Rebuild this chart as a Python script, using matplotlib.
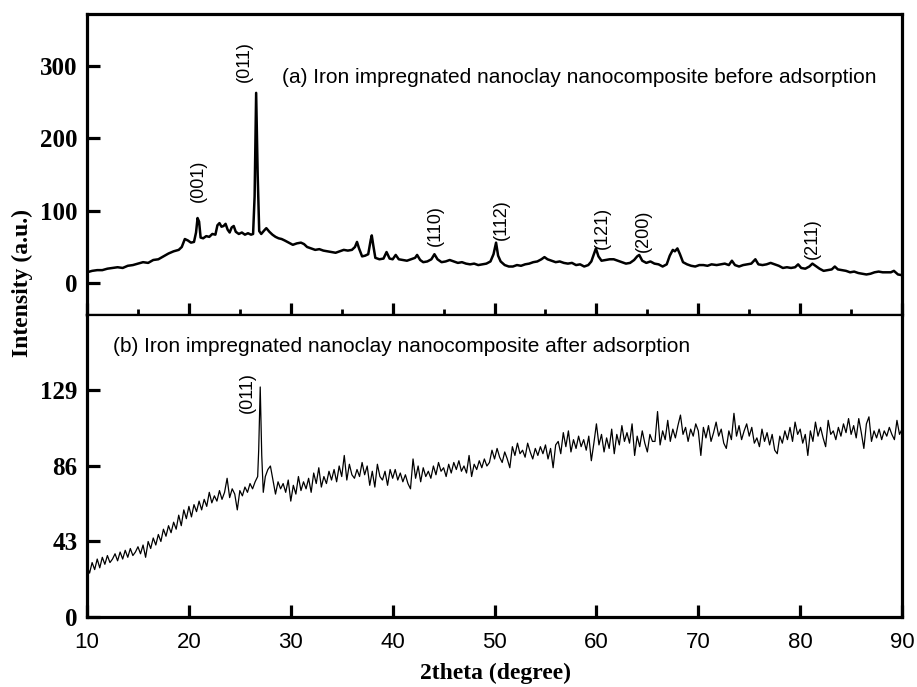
import matplotlib
matplotlib.use("Agg")
import matplotlib.pyplot as plt
from matplotlib.ticker import MultipleLocator

# ── (a) before adsorption ─────────────────────────────────────────────────────
before_2theta = [
    10.0, 10.5, 11.0, 11.5, 12.0, 12.5, 13.0, 13.5, 14.0, 14.5, 15.0, 15.5,
    16.0, 16.5, 17.0, 17.5, 18.0, 18.5, 19.0, 19.3, 19.6, 19.9, 20.2, 20.5,
    20.7, 20.85, 21.0, 21.15, 21.4, 21.7, 22.0, 22.3, 22.6, 22.8, 23.0, 23.2,
    23.4, 23.6, 23.8, 24.0, 24.2, 24.4, 24.6, 24.9, 25.2, 25.5, 25.8, 26.1,
    26.3, 26.45, 26.6, 26.75, 26.9, 27.1, 27.4, 27.6, 27.9, 28.2, 28.5, 28.8,
    29.1, 29.4, 29.8, 30.2, 30.6, 31.0, 31.3, 31.6, 32.0, 32.4, 32.8, 33.2,
    33.6, 34.0, 34.4, 34.8, 35.2, 35.6, 36.0, 36.3, 36.5, 36.7, 37.0, 37.3,
    37.6, 37.85, 37.95, 38.1, 38.3, 38.7, 39.1, 39.4, 39.7, 40.0, 40.3, 40.6,
    41.0, 41.4, 41.8, 42.2, 42.4, 42.7, 43.0, 43.4, 43.8, 44.1, 44.4, 44.8,
    45.2, 45.6, 46.0, 46.4, 46.8, 47.2, 47.6, 48.0, 48.4, 48.8, 49.2, 49.6,
    49.9, 50.15, 50.35, 50.6, 51.0, 51.4, 51.8, 52.2, 52.6, 53.0, 53.4, 53.8,
    54.2, 54.6, 54.9, 55.2, 55.6, 56.0, 56.4, 56.8, 57.2, 57.6, 58.0, 58.4,
    58.8, 59.2, 59.5, 59.8, 59.95, 60.2, 60.5, 60.9, 61.3, 61.7, 62.1, 62.5,
    62.9, 63.3, 63.7, 64.0, 64.2, 64.5, 64.9, 65.3, 65.7, 66.1, 66.5, 66.9,
    67.2, 67.5, 67.7, 67.95, 68.2, 68.5, 68.9, 69.3, 69.7, 70.1, 70.5, 70.9,
    71.3, 71.8, 72.2, 72.6, 73.0, 73.3, 73.6, 74.0, 74.4, 74.8, 75.2, 75.6,
    75.9, 76.3, 76.7, 77.1, 77.5, 77.9, 78.3, 78.7, 79.1, 79.5, 79.8, 80.1,
    80.5, 80.9, 81.2, 81.5, 81.9, 82.3, 82.7, 83.1, 83.4, 83.7, 84.1, 84.5,
    84.9, 85.3, 85.7, 86.1, 86.5, 86.9, 87.3, 87.7, 88.1, 88.5, 88.9, 89.2,
    89.6, 90.0,
]
before_intensity = [
    15, 17, 18, 18, 20, 21, 22, 21, 24, 25, 27, 29,
    28, 32, 33, 37, 41, 44, 46, 50, 61, 59, 56, 57,
    70, 90, 85, 63, 62, 65, 64, 68, 67, 80, 83, 78,
    79, 82, 74, 70, 77, 79, 71, 68, 70, 67, 69, 67,
    68, 120, 263, 150, 72, 68, 73, 76, 71, 67, 64, 62,
    61, 59, 56, 53, 55, 56, 54, 50, 48, 46, 47, 45,
    44, 43, 42, 44, 46, 45, 46, 50, 57, 48, 37, 38,
    40, 60, 66, 52, 35, 33, 34, 43, 34, 33, 39, 33,
    32, 31, 33, 35, 39, 32, 29, 30, 33, 40, 33, 29,
    30, 32, 30, 28, 29, 27, 26, 27, 25, 26, 27, 30,
    40, 56, 38, 30, 25, 23, 23, 25, 24, 26, 27, 29,
    30, 33, 36, 33, 31, 29, 30, 28, 27, 28, 25, 26,
    23, 25, 30, 42, 48, 37, 31, 32, 33, 33, 31, 29,
    27, 28, 32, 37, 39, 31, 28, 30, 27, 26, 23, 26,
    38, 46, 44, 48, 40, 29, 26, 24, 23, 25, 25, 24,
    26, 25, 26, 27, 25, 31, 25, 23, 25, 26, 27, 33,
    26, 25, 26, 28, 26, 24, 21, 22, 21, 22, 26, 21,
    20, 23, 27, 24, 20, 17, 18, 19, 23, 19, 18, 17,
    15, 16, 14, 13, 12, 13, 15, 16, 15, 15, 15, 17,
    12, 11,
]

# ── (b) after adsorption ──────────────────────────────────────────────────────
after_2theta = [
    10.0, 10.25, 10.5, 10.75, 11.0, 11.25, 11.5, 11.75, 12.0, 12.25, 12.5, 12.75,
    13.0, 13.25, 13.5, 13.75, 14.0, 14.25, 14.5, 14.75, 15.0, 15.25, 15.5, 15.75,
    16.0, 16.25, 16.5, 16.75, 17.0, 17.25, 17.5, 17.75, 18.0, 18.25, 18.5, 18.75,
    19.0, 19.25, 19.5, 19.75, 20.0, 20.25, 20.5, 20.75, 21.0, 21.25, 21.5, 21.75,
    22.0, 22.25, 22.5, 22.75, 23.0, 23.25, 23.5, 23.75, 24.0, 24.25, 24.5, 24.75,
    25.0, 25.25, 25.5, 25.75, 26.0, 26.25, 26.5, 26.75, 26.85, 27.0, 27.15, 27.3,
    27.5, 27.75, 28.0, 28.25, 28.5, 28.75, 29.0, 29.25, 29.5, 29.75, 30.0, 30.25,
    30.5, 30.75, 31.0, 31.25, 31.5, 31.75, 32.0, 32.25, 32.5, 32.75, 33.0, 33.25,
    33.5, 33.75, 34.0, 34.25, 34.5, 34.75, 35.0, 35.25, 35.5, 35.75, 36.0, 36.25,
    36.5, 36.75, 37.0, 37.25, 37.5, 37.75, 38.0, 38.25, 38.5, 38.75, 39.0, 39.25,
    39.5, 39.75, 40.0, 40.25, 40.5, 40.75, 41.0, 41.25, 41.5, 41.75, 42.0, 42.25,
    42.5, 42.75, 43.0, 43.25, 43.5, 43.75, 44.0, 44.25, 44.5, 44.75, 45.0, 45.25,
    45.5, 45.75, 46.0, 46.25, 46.5, 46.75, 47.0, 47.25, 47.5, 47.75, 48.0, 48.25,
    48.5, 48.75, 49.0, 49.25, 49.5, 49.75, 50.0, 50.25, 50.5, 50.75, 51.0, 51.25,
    51.5, 51.75, 52.0, 52.25, 52.5, 52.75, 53.0, 53.25, 53.5, 53.75, 54.0, 54.25,
    54.5, 54.75, 55.0, 55.25, 55.5, 55.75, 56.0, 56.25, 56.5, 56.75, 57.0, 57.25,
    57.5, 57.75, 58.0, 58.25, 58.5, 58.75, 59.0, 59.25, 59.5, 59.75, 60.0, 60.25,
    60.5, 60.75, 61.0, 61.25, 61.5, 61.75, 62.0, 62.25, 62.5, 62.75, 63.0, 63.25,
    63.5, 63.75, 64.0, 64.25, 64.5, 64.75, 65.0, 65.25, 65.5, 65.75, 66.0, 66.25,
    66.5, 66.75, 67.0, 67.25, 67.5, 67.75, 68.0, 68.25, 68.5, 68.75, 69.0, 69.25,
    69.5, 69.75, 70.0, 70.25, 70.5, 70.75, 71.0, 71.25, 71.5, 71.75, 72.0, 72.25,
    72.5, 72.75, 73.0, 73.25, 73.5, 73.75, 74.0, 74.25, 74.5, 74.75, 75.0, 75.25,
    75.5, 75.75, 76.0, 76.25, 76.5, 76.75, 77.0, 77.25, 77.5, 77.75, 78.0, 78.25,
    78.5, 78.75, 79.0, 79.25, 79.5, 79.75, 80.0, 80.25, 80.5, 80.75, 81.0, 81.25,
    81.5, 81.75, 82.0, 82.25, 82.5, 82.75, 83.0, 83.25, 83.5, 83.75, 84.0, 84.25,
    84.5, 84.75, 85.0, 85.25, 85.5, 85.75, 86.0, 86.25, 86.5, 86.75, 87.0, 87.25,
    87.5, 87.75, 88.0, 88.25, 88.5, 88.75, 89.0, 89.25, 89.5, 89.75, 90.0,
]
after_intensity = [
    29, 25, 31, 27, 33, 28, 34, 30, 35, 31, 33, 36,
    32, 37, 33, 38, 34, 39, 35, 37, 40, 36, 41, 34,
    43, 39, 45, 41, 47, 43, 50, 46, 52, 48, 54, 50,
    58, 52, 61, 56, 63, 57, 64, 60, 66, 61, 67, 63,
    71, 65, 69, 66, 72, 67, 71, 79, 68, 73, 70, 61,
    72, 69, 74, 71, 76, 73, 77, 80, 95, 131, 92, 71,
    80, 84, 86, 78, 70, 77, 73, 76, 71, 78, 66, 75,
    70, 80, 72, 77, 73, 79, 71, 82, 76, 85, 74, 80,
    76, 83, 78, 84, 77, 86, 80, 92, 78, 87, 81, 79,
    84, 80, 88, 81, 86, 75, 83, 74, 87, 80, 78, 83,
    75, 84, 79, 84, 78, 82, 77, 81, 76, 73, 90, 79,
    86, 77, 85, 80, 83, 79, 86, 81, 88, 83, 85, 80,
    87, 82, 88, 84, 89, 83, 86, 82, 92, 80, 87, 84,
    89, 85, 90, 86, 88, 95, 90, 96, 91, 88, 94, 90,
    85, 97, 92, 99, 93, 95, 91, 99, 94, 90, 96, 92,
    97, 93, 98, 90, 96, 85, 98, 100, 93, 105, 97, 106,
    94, 101, 96, 103, 97, 101, 95, 103, 89, 99, 110, 98,
    104, 94, 102, 96, 107, 93, 104, 98, 109, 100, 105, 99,
    110, 92, 103, 97, 106, 99, 94, 104, 100, 100, 117, 98,
    106, 101, 112, 100, 107, 102, 109, 115, 104, 108, 100, 107,
    103, 110, 106, 92, 108, 102, 109, 100, 105, 111, 103, 107,
    99, 96, 106, 101, 116, 103, 109, 101, 106, 110, 103, 108,
    99, 102, 97, 107, 100, 105, 98, 104, 95, 93, 103, 99,
    106, 101, 108, 100, 111, 104, 107, 99, 104, 92, 106, 100,
    111, 103, 108, 102, 97, 112, 104, 106, 101, 108, 103, 110,
    105, 113, 104, 109, 102, 113, 105, 96, 110, 114, 100, 106,
    102, 107, 101, 106, 103, 108, 104, 101, 112, 104, 107,
]

# peak labels: (label, 2theta, intensity at text centre)
before_peaks = [
    ("(001)", 20.9, 141), ("(011)", 25.4, 306), ("(110)", 44.15, 80),
    ("(112)", 50.7, 88), ("(121)", 60.6, 77), ("(200)", 64.6, 72),
    ("(211)", 81.2, 62),
]
after_peaks = [("(011)", 25.7, 128)]

serif = "Liberation Serif"
sans = "Liberation Sans"

fig = plt.figure(figsize=(9.17, 6.87), dpi=100)
ax_a = fig.add_axes([0.0949, 0.5415, 0.8888, 0.4381])
ax_b = fig.add_axes([0.0949, 0.1019, 0.8888, 0.4396])

ax_a.plot(before_2theta, before_intensity, color="black", lw=1.8)
ax_b.plot(after_2theta, after_intensity, color="black", lw=0.9)

for ax in (ax_a, ax_b):
    ax.set_xlim(10, 90)
    for sp in ax.spines.values():
        sp.set_linewidth(2.3)
    ax.tick_params(which="major", direction="in", length=9, width=2.3,
                   top=False, right=False)
    ax.tick_params(which="minor", direction="in", length=4.5, width=2.0,
                   top=False, right=False)

# top panel
ax_a.set_ylim(-44, 372)
ax_a.set_yticks([0, 100, 200, 300])
ax_a.xaxis.set_major_locator(MultipleLocator(10))
ax_a.xaxis.set_minor_locator(MultipleLocator(5))
ax_a.tick_params(axis="x", labelbottom=False)
ax_a.spines["bottom"].set_linewidth(1.6)

# bottom panel
ax_b.set_ylim(0, 172)
ax_b.set_yticks([0, 43, 86, 129])
ax_b.set_xticks([10, 20, 30, 40, 50, 60, 70, 80, 90])
ax_b.spines["top"].set_linewidth(1.6)

for ax in (ax_a, ax_b):
    ax.tick_params(axis="y", pad=7)
    for lab in ax.get_yticklabels():
        lab.set_fontfamily(serif)
        lab.set_fontweight("bold")
        lab.set_fontsize(18)
ax_b.tick_params(axis="x", pad=11)
for lab in ax_b.get_xticklabels():
    lab.set_fontfamily(sans)
    lab.set_fontsize(16)

# peak annotations
for label, tx, ty in before_peaks:
    ax_a.text(tx, ty, label, rotation=90, ha="center", va="center",
              family=sans, fontsize=13)
for label, tx, ty in after_peaks:
    ax_b.text(tx, ty, label, rotation=90, ha="center", va="center",
              family=sans, fontsize=13)

ax_a.text(29.1, 284, "(a) Iron impregnated nanoclay nanocomposite before adsorption",
          ha="left", va="center", family=sans, fontsize=15)
ax_b.text(12.55, 154, "(b) Iron impregnated nanoclay nanocomposite after adsorption",
          ha="left", va="center", family=sans, fontsize=15)

fig.text(22 / 917, 1 - 283 / 687, "Intensity (a.u.)", rotation=90,
         ha="center", va="center", family=serif, fontweight="bold", fontsize=17)
fig.text(495 / 917, 1 - 673 / 687, "2theta (degree)",
         ha="center", va="center", family=serif, fontweight="bold", fontsize=17)

fig.savefig("out.png", dpi=100)
